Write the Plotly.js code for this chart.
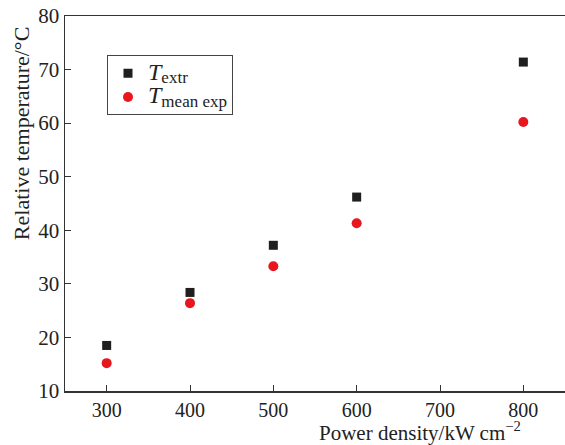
<!DOCTYPE html>
<html>
<head>
<meta charset="utf-8">
<script src="https://cdn.plot.ly/plotly-3.0.1.min.js"></script>
<style>html,body{margin:0;padding:0;background:#fff;}#chart{width:565px;height:445px;}</style>
</head>
<body>
<div id="chart"></div>
<script>
var powerDensity = [300, 400, 500, 600, 800];
var tExtr = [18.5, 28.4, 37.2, 46.2, 71.4];
var tMeanExp = [15.2, 26.4, 33.3, 41.3, 60.2];
var xTickVals = [300, 400, 500, 600, 700, 800];
var yTickVals = [10, 20, 30, 40, 50, 60, 70, 80];
var seriesNames = [
  '<span style="font-size:24px"><i>T</i></span><sub><span style="font-size:17px">extr</span></sub>',
  '<span style="font-size:24px"><i>T</i></span><sub><span style="font-size:17px">mean exp</span></sub>'
];

var serif = "Liberation Serif, Times New Roman, serif";

var traces = [
  {x: powerDensity, y: tExtr, type: 'scatter', mode: 'markers',
   name: seriesNames[0],
   marker: {symbol: 'square', size: 9, color: '#1f1f1f'}},
  {x: powerDensity, y: tMeanExp, type: 'scatter', mode: 'markers',
   name: seriesNames[1],
   marker: {symbol: 'circle', size: 10, color: '#e8161f'}}
];

var layout = {
  width: 565, height: 445,
  margin: {l: 65, r: 0, t: 16, b: 54},
  paper_bgcolor: '#fff', plot_bgcolor: '#fff',
  font: {family: serif, size: 21, color: '#222'},
  showlegend: true,
  legend: {x: 0.084, y: 0.895, xanchor: 'left', yanchor: 'top',
    bordercolor: '#444', borderwidth: 1, bgcolor: '#fff',
    font: {family: serif, size: 16, color: '#222'},
    itemwidth: 30, tracegroupgap: 0},
  xaxis: {range: [250, 850], tickvals: xTickVals, ticks: 'inside', ticklen: 6,
    tickcolor: '#333', showline: true, linecolor: '#333', linewidth: 1.5, mirror: true,
    showgrid: false, zeroline: false,
    tickfont: {family: serif, size: 20, color: '#222'}},
  yaxis: {range: [10, 80], tickvals: yTickVals, ticks: 'inside', ticklen: 6,
    tickcolor: '#333', showline: true, linecolor: '#333', linewidth: 1.5, mirror: true,
    showgrid: false, zeroline: false,
    tickfont: {family: serif, size: 21, color: '#222'}},
  annotations: [
    {text: 'Power density/kW cm<sup>−2</sup>', xref: 'paper', yref: 'paper',
     x: 0.71, y: -0.108, xanchor: 'center', yanchor: 'middle', showarrow: false,
     font: {family: serif, size: 21, color: '#222'}},
    {text: 'Relative temperature/°C', xref: 'paper', yref: 'paper',
     x: -0.088, y: 0.685, xanchor: 'center', yanchor: 'middle', textangle: -90, showarrow: false,
     font: {family: serif, size: 22, color: '#222'}}
  ]
};

Plotly.newPlot('chart', traces, layout, {displayModeBar: false, staticPlot: true});
</script>
</body>
</html>
